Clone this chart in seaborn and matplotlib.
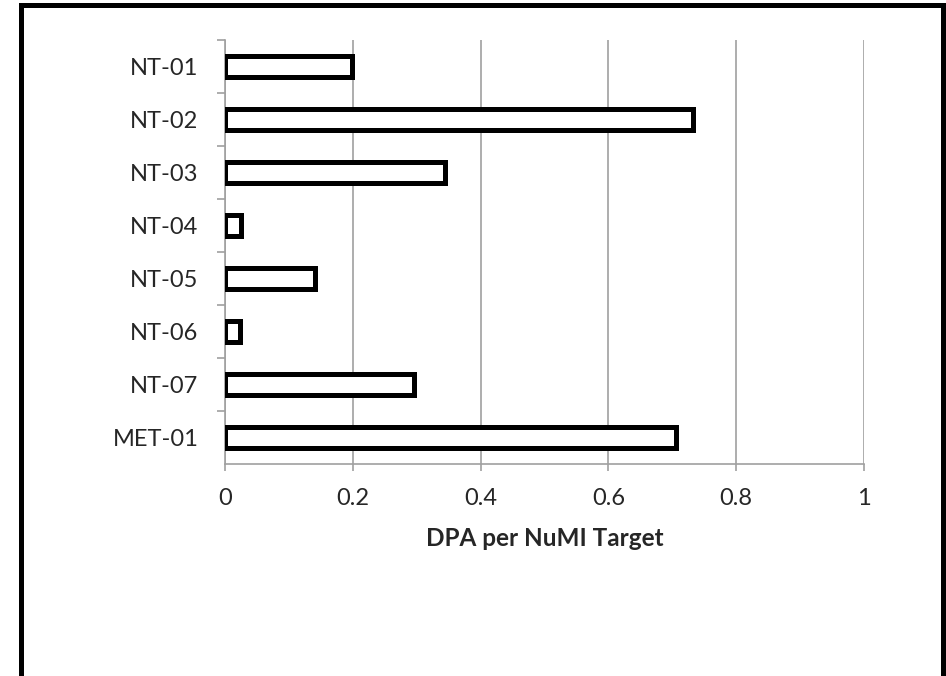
import numpy as np
import pandas as pd
import seaborn as sns
import matplotlib.pyplot as plt
from matplotlib.patches import Rectangle

# values
samples = ['NT-01', 'NT-02', 'NT-03', 'NT-04', 'NT-05', 'NT-06', 'NT-07', 'MET-01']
dpa = [0.199, 0.733, 0.345, 0.025, 0.141, 0.024, 0.295, 0.706]
x_ticks = [0, 0.2, 0.4, 0.6, 0.8, 1]
x_tick_labels = ['0', '0.2', '0.4', '0.6', '0.8', '1']

df = pd.DataFrame({'sample': samples, 'dpa': dpa})

sns.set_style('white')
plt.rcParams['font.family'] = ['Lato', 'DejaVu Sans']

fig = plt.figure(figsize=(9.46, 6.76), dpi=100)
ax = fig.add_axes([225 / 946, 1 - 464 / 676, (864 - 225) / 946, (464 - 40) / 676])

grid_col = '#a0a0a0'
sns.barplot(data=df, x='dpa', y='sample', orient='h', color='white',
            edgecolor='black', linewidth=3.6, width=0.4, ax=ax, zorder=3)

ax.set_xlim(0, 1)
ax.set_ylim(len(samples) - 0.5, -0.5)
ax.set_xticks(x_ticks)
ax.set_xticklabels(x_tick_labels)
ax.set_yticks(np.arange(len(samples)) - 0.5, minor=True)
ax.tick_params(axis='y', which='major', length=0, pad=19, labelsize=17)
ax.tick_params(axis='y', which='minor', length=5.5, width=1.2, color=grid_col, direction='out', left=True)
ax.tick_params(axis='x', length=5, width=1.2, color=grid_col, pad=12, labelsize=17, bottom=True)
ax.xaxis.grid(True, color=grid_col, linewidth=1.2, zorder=0)
ax.set_axisbelow(True)

for side in ['top', 'right']:
    ax.spines[side].set_visible(False)
for side in ['left', 'bottom']:
    ax.spines[side].set_color(grid_col)
    ax.spines[side].set_linewidth(1.2)

ax.set_ylabel('')
ax.set_xlabel('DPA per NuMI Target', fontsize=17.5, fontweight='bold', labelpad=13)

# thick outer frame, open at the bottom edge of the image
fig.patches.append(Rectangle((20.5 / 946, -0.1), (942.5 - 20.5) / 946, 1.1 - 5 / 676,
                             transform=fig.transFigure, fill=False,
                             edgecolor='black', linewidth=3.6))

fig.savefig('out.png', dpi=100)
